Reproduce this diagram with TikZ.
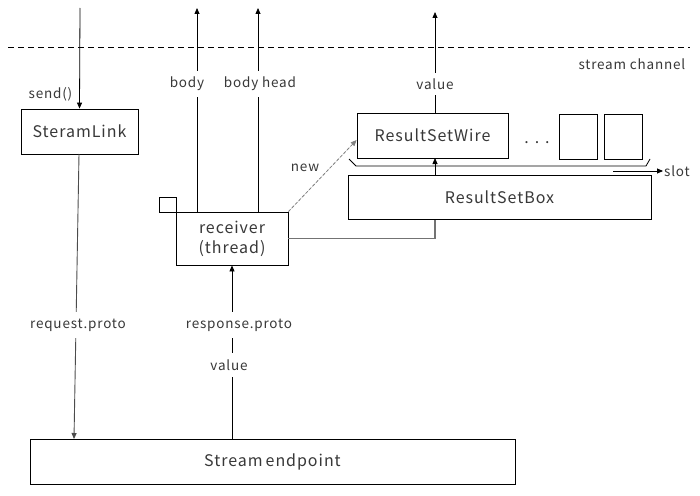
\documentclass[tikz,border=0pt]{standalone}
\usepackage{fontspec}
\setmainfont{Noto Sans CJK JP}[LetterSpace=6]
\usetikzlibrary{arrows.meta}
\begin{document}
\begin{tikzpicture}[x=1pt,y=-1pt,
  box/.style={draw=black,fill=white,line width=0.8pt,inner sep=0pt},
  txt/.style={text=black!78,font=\fontsize{16}{20}\selectfont},
  lbl/.style={fill=white,inner xsep=1.5pt,inner ysep=6pt,text=black!78,font=\fontsize{13.5}{16}\selectfont},
  arr/.style={-{Triangle[length=6pt,width=5pt]},line width=0.8pt},
  grayline/.style={draw=black!55,line width=1.4pt},
]
\useasboundingbox (0,0) rectangle (700,495);
% channel
\draw[dashed,dash pattern=on 6pt off 4pt,line width=0.8pt] (8,47) -- (690,47);
\node[lbl,anchor=east,inner ysep=1pt] (sc) at (687,64) {stream channel};
% boxes
\node[box,minimum width=117pt,minimum height=45pt] (sl) at (79.5,131.5) {};
\node[txt] at (sl) {SteramLink};
\node[box,minimum width=485pt,minimum height=45pt] (se) at (272.5,461.5) {};
\node[txt] at (se) {Stream\kern-1.5pt\ endpoint};
\node[box,minimum width=17pt,minimum height=15pt] (sq) at (167.5,204.5) {};
\node[box,minimum width=112pt,minimum height=53pt] (rc) at (232,238.5) {};
\node[txt,align=center] at (rc) {receiver\\(thread)};
\node[box,minimum width=151pt,minimum height=45pt] (rw) at (432.5,135.5) {};
\node[txt] at (rw) {ResultSetWire};
\node[box,minimum width=38pt,minimum height=45pt] (s1) at (578,136.5) {};
\node[box,minimum width=38pt,minimum height=45pt] (s2) at (623,136.5) {};
\node[txt] (dots) at (537,143) {.\hspace{6pt}.\hspace{6pt}.};
% slot bracket
\coordinate (b1) at (349,159);
\coordinate (b2) at (356,166);
\coordinate (b3) at (646,166);
\coordinate (b4) at (650,159);
\draw[line width=0.8pt] (b1) -- (b2) -- (b3) -- (b4);
\coordinate (sa) at (613,171);
\node[lbl,anchor=west,inner sep=1pt] (slot) at (663,171) {slot};
\draw[arr] (sa) -- (slot.west);
% receiver to wire (behind box)
\coordinate (corner) at (435,238.5);
\draw[grayline] (rc.east) -- (corner) -- (435,175);
\draw[arr] (435,175) -- (435,158);
\node[box,minimum width=303pt,minimum height=44pt] (rb) at (499.5,197) {};
\node[txt] at (rb) {ResultSetBox};
% top arrows
\coordinate (topa) at (80,8);
\draw[arr] (topa) -- (sl.north);
\node[lbl,anchor=east,inner ysep=1pt] (send) at (74,94) {send()};
\coordinate (bodyt) at (197,8);
\coordinate (bodyb) at (197,212);
\draw[arr] (bodyb) -- (bodyt);
\node[lbl] at (187,84) {body};
\coordinate (bht) at (258,8);
\coordinate (bhb) at (258,212);
\draw[arr] (bhb) -- (bht);
\node[lbl] at (260,84) {body head};
\coordinate (vt) at (435,12);
\draw[arr] (435,113) -- (vt);
\node[lbl] at (435,84) {value};
% new
\draw[arr,dashed,draw=black!50,fill=black!50,dash pattern=on 3pt off 2pt,line width=0.8pt] (rc.north east) -- (rw.west|-140,140) ;
\node[lbl,fill=none] at (305,168) {new};
% request
\coordinate (ra) at (79,154);
\coordinate (rb2) at (74,439);
\draw[draw=black!70,line width=0.9pt,-{Triangle[length=6pt,width=5pt]}] (ra) -- (rb2);
\node[lbl,inner ysep=7pt] at (78,325) {request.proto};
% response
\draw[arr] (232,439) -- (rc.south);
\node[lbl,inner ysep=7pt] at (239,325) {response.proto};
\node[lbl,inner ysep=7pt] at (229,365) {value};
\end{tikzpicture}
\end{document}
